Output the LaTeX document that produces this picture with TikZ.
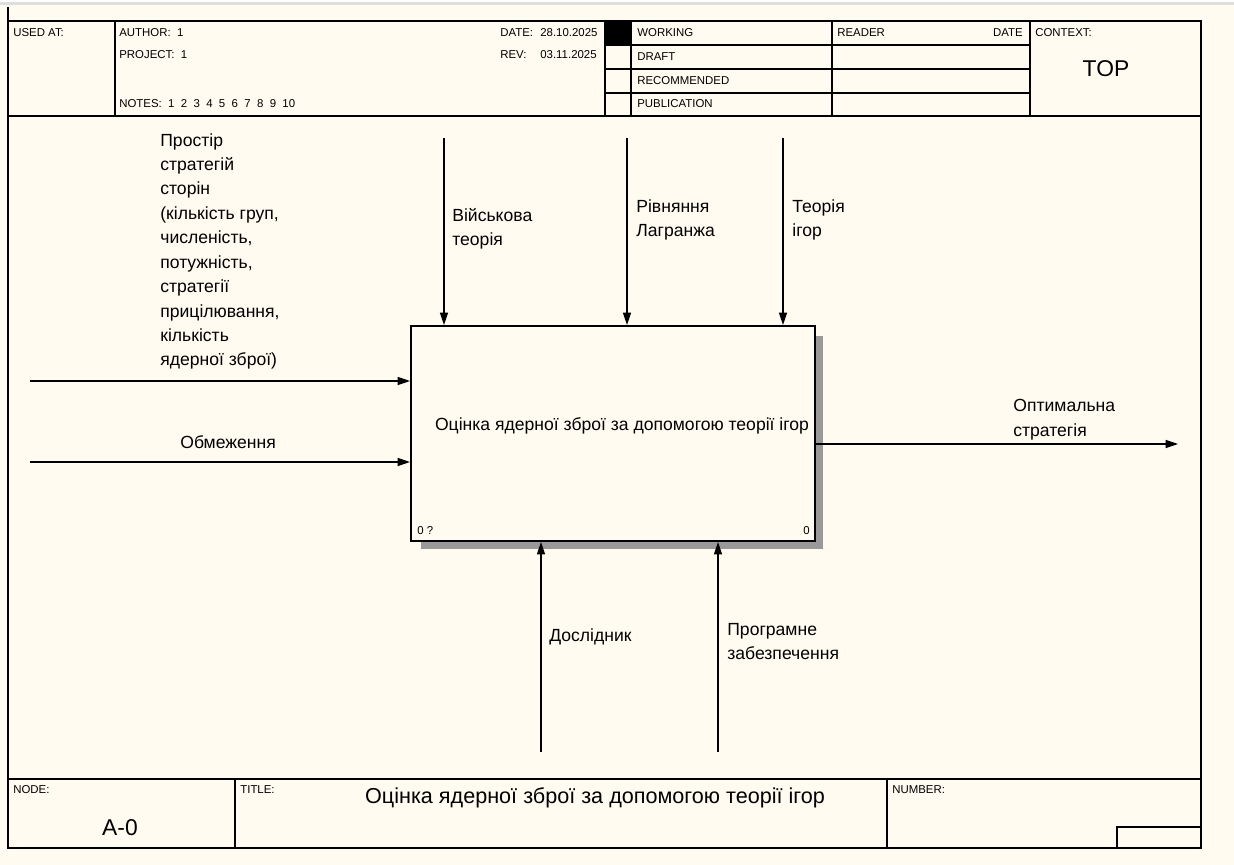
\documentclass[tikz,border=0pt]{standalone}
\usepackage{fontspec}
\setmainfont{Liberation Sans}
\usetikzlibrary{arrows.meta,positioning}
\definecolor{formfill}{RGB}{255,251,240}
\definecolor{topstrip}{RGB}{222,222,222}

\begin{document}
\begin{tikzpicture}[x=0.02cm, y=-0.02cm,
      frame/.style={line width=0.6pt},
      tiny/.style={inner sep=0pt, font=\fontsize{6.5}{8}\selectfont},
      lbl/.style={inner sep=0pt, align=left, font=\fontsize{10}{13.9}\selectfont},
      func/.style={draw, line width=1.2pt, fill=formfill, inner sep=0pt,
                   minimum width=8.08cm, minimum height=4.3cm},
      arr/.style={-{Triangle[length=7pt, width=4.6pt]}, line width=0.6pt}
    ]
    \useasboundingbox (0,0) rectangle (1234,865);
    \fill[white] (0,0) rectangle (1234,865);
    \fill[topstrip] (0,2) rectangle (1234,5);
    \fill[formfill] (0,5) rectangle (1234,865);

    % form frame
    \draw[frame] (8,7) -- (8,848) -- (1201,848) -- (1201,21) -- (8,21);
    \draw[frame] (8,116) -- (1201,116);
    \draw[frame] (8,779) -- (1201,779);
    \draw[frame] (115,21) -- (115,116);
    \draw[frame] (605,21) -- (605,116);
    \draw[frame] (631,21) -- (631,116);
    \draw[frame] (832,21) -- (832,116);
    \draw[frame] (1030,21) -- (1030,116);
    \foreach \yy in {45,69,93}
      \draw[frame] (605,\yy) -- (1030,\yy);
    \fill (605,21) rectangle (631,45);
    \draw[frame] (235,779) -- (235,848);
    \draw[frame] (887,779) -- (887,848);
    \draw[frame] (1117,848) -- (1117,827) -- (1201,827);

    % header texts
    \node[tiny, anchor=west] (usedat) at (13,33) {USED AT:};
    \node[tiny, anchor=west] (author) at (119,33) {AUTHOR:\ \ 1};
    \node[tiny, anchor=west] (project) at (119,55) {PROJECT:\ \ 1};
    \node[tiny, anchor=west] (notes) at (119,104) {NOTES:\ \ 1\ \ 2\ \ 3\ \ 4\ \ 5\ \ 6\ \ 7\ \ 8\ \ 9\ \ 10};
    \node[tiny, anchor=west] (datekey) at (500,33) {DATE:};
    \node[tiny, anchor=west] (dateval) at (540,33) {28.10.2025};
    \node[tiny, anchor=west] (revkey) at (500,55) {REV:};
    \node[tiny, anchor=west] (revval) at (540,55) {03.11.2025};
    \node[tiny, anchor=west] (working) at (637,33) {WORKING};
    \node[tiny, anchor=west] (draft) at (637,57) {DRAFT};
    \node[tiny, anchor=west] (recom) at (637,81) {RECOMMENDED};
    \node[tiny, anchor=west] (publ) at (637,104) {PUBLICATION};
    \node[tiny, anchor=west] (reader) at (837,33) {READER};
    \node[tiny, anchor=east] (rdate) at (1023,33) {DATE};
    \node[tiny, anchor=west] (context) at (1035,33) {CONTEXT:};
    \node[inner sep=0pt, font=\fontsize{13}{14}\selectfont] (top) at (1106,69) {TOP};

    % footer texts
    \node[tiny, anchor=west] (nodekey) at (13,790) {NODE:};
    \node[inner sep=0pt, font=\fontsize{13}{14}\selectfont] (nodeval) at (120,828) {A-0};
    \node[tiny, anchor=west] (titlekey) at (240,790) {TITLE:};
    \node[inner sep=0pt, font=\fontsize{12.3}{14}\selectfont] (titleval) at (595,798)
      {Оцінка ядерної зброї за допомогою теорії ігор};
    \node[tiny, anchor=west] (numkey) at (892,790) {NUMBER:};

    % function box with shadow
    \fill[black!40] (815,336) rectangle (823,549);
    \fill[black!40] (421,541) rectangle (823,549);
    \node[func, label={[lbl, xshift=0.18cm, yshift=0.16cm]center:Оцінка ядерної зброї за допомогою теорії ігор}]
      (fn) at (613,433.5) {};
    \node[tiny, anchor=west] (fnnum) at (417,531) {0 ?};
    \node[tiny, anchor=east] (fncost) at (810,531) {0};

    % free ends
    \coordinate (in1) at (30,381);
    \coordinate (in2) at (30,462);
    \coordinate (ct1) at (444,138);
    \coordinate (ct2) at (627,138);
    \coordinate (ct3) at (783,138);
    \coordinate (me1) at (541,752);
    \coordinate (me2) at (718,752);
    \coordinate (out) at (1178,444);

    \draw[arr] (in1) -- (in1 -| fn.west);
    \draw[arr] (in2) -- (in2 -| fn.west);
    \draw[arr] (ct1) -- (ct1 |- fn.north);
    \draw[arr] (ct2) -- (ct2 |- fn.north);
    \draw[arr] (ct3) -- (ct3 |- fn.north);
    \draw[arr] (me1) -- (me1 |- fn.south);
    \draw[arr] (me2) -- (me2 |- fn.south);
    \draw[arr] (out -| fn.east) -- (out);

    % arrow labels
    \node[lbl, anchor=north west] (in1lbl) at (160,133)
      {Простір\\стратегій\\сторін\\(кількість груп,\\численість,\\потужність,\\стратегії\\прицілювання,\\кількість\\ядерної зброї)};
    \node[lbl, anchor=west] (in2lbl) at (180,442) {Обмеження};
    \node[lbl, anchor=north west] (ct1lbl) at (452,208) {Військова\\теорія};
    \node[lbl, anchor=north west] (ct2lbl) at (636,199) {Рівняння\\Лагранжа};
    \node[lbl, anchor=north west] (ct3lbl) at (792,199) {Теорія\\ігор};
    \node[lbl, anchor=north west] (outlbl) at (1013,399) {Оптимальна\\стратегія};
    \node[lbl, anchor=west] (me1lbl) at (549,637) {Дослідник};
    \node[lbl, anchor=north west] (me2lbl) at (727,623) {Програмне\\забезпечення};
  \end{tikzpicture}
\end{document}
